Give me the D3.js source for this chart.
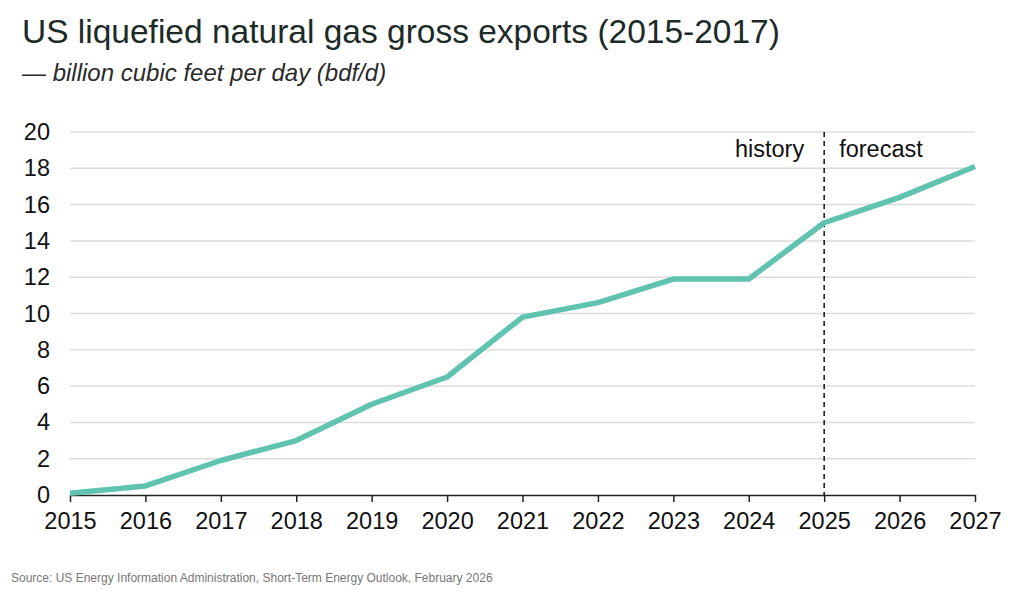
<!DOCTYPE html>
<html>
<head>
<meta charset="utf-8">
<script src="https://cdn.jsdelivr.net/npm/d3@7"></script>
<style>
  body { margin: 0; background: #fff; }
  svg { display: block; font-family: "Liberation Sans", Arial, sans-serif; }
</style>
</head>
<body>
<div id="chart"></div>
<script>
// data
const years = [2015, 2016, 2017, 2018, 2019, 2020, 2021, 2022, 2023, 2024, 2025, 2026, 2027];
const exportsBcfd = [0.1, 0.5, 1.9, 3.0, 5.0, 6.5, 9.8, 10.6, 11.9, 11.9, 15.0, 16.4, 18.1];
const yTicks = [0, 2, 4, 6, 8, 10, 12, 14, 16, 18, 20];
const splitYear = 2025;

const width = 1024, height = 599;
const margin = { top: 132, right: 49, bottom: 104, left: 70 };

const svg = d3.select("#chart").append("svg")
  .attr("width", width)
  .attr("height", height);

const x = d3.scaleLinear()
  .domain([years[0], years[years.length - 1]])
  .range([margin.left, width - margin.right]);

const y = d3.scaleLinear()
  .domain([0, 20])
  .range([height - margin.bottom, margin.top]);

// title + subtitle
svg.append("text")
  .attr("x", 22).attr("y", 43)
  .attr("font-size", 33.5)
  .attr("fill", "#1d2b28")
  .text("US liquefied natural gas gross exports (2015-2017)");

svg.append("text")
  .attr("x", 22).attr("y", 81)
  .attr("font-size", 24)
  .attr("font-style", "italic")
  .attr("fill", "#2a2a2a")
  .text("\u2014 billion cubic feet per day (bdf/d)");

// gridlines
svg.append("g")
  .selectAll("line")
  .data(yTicks.filter(d => d > 0))
  .join("line")
  .attr("x1", x.range()[0]).attr("x2", x.range()[1])
  .attr("y1", d => y(d)).attr("y2", d => y(d))
  .attr("stroke", "#dcdcdc")
  .attr("stroke-width", 1.5);

// y axis labels
const yAxis = svg.append("g")
  .attr("transform", `translate(${margin.left},0)`)
  .call(d3.axisLeft(y).tickValues(yTicks).tickSize(0).tickPadding(20));
yAxis.select(".domain").remove();
yAxis.selectAll("text")
  .attr("font-size", 23.5)
  .attr("font-family", "Liberation Sans, Arial, sans-serif")
  .attr("fill", "#111");

// x axis
const xAxis = svg.append("g")
  .attr("transform", `translate(0,${y(0)})`)
  .call(d3.axisBottom(x).tickValues(years).tickFormat(d3.format("d")).tickSize(7).tickSizeOuter(0).tickPadding(10));
xAxis.select(".domain").attr("stroke", "#222").attr("stroke-width", 1.5);
xAxis.selectAll(".tick line").attr("stroke", "#222").attr("stroke-width", 1.5);
xAxis.selectAll("text")
  .attr("font-size", 23.5)
  .attr("font-family", "Liberation Sans, Arial, sans-serif")
  .attr("fill", "#111");

// history / forecast divider
svg.append("line")
  .attr("x1", x(splitYear)).attr("x2", x(splitYear))
  .attr("y1", y(20)).attr("y2", y(0))
  .attr("stroke", "#111")
  .attr("stroke-width", 1.5)
  .attr("stroke-dasharray", "5,4");

svg.append("text")
  .attr("x", x(splitYear) - 20).attr("y", 157)
  .attr("text-anchor", "end")
  .attr("font-size", 23.5)
  .attr("fill", "#111")
  .text("history");

svg.append("text")
  .attr("x", x(splitYear) + 15).attr("y", 157)
  .attr("font-size", 23.5)
  .attr("fill", "#111")
  .text("forecast");

// series line
const line = d3.line()
  .x((d, i) => x(years[i]))
  .y(d => y(d));

svg.append("path")
  .datum(exportsBcfd)
  .attr("fill", "none")
  .attr("stroke", "#5fc3b0")
  .attr("stroke-width", 5.5)
  .attr("stroke-linejoin", "round")
  .attr("d", line);

// source
svg.append("text")
  .attr("x", 11).attr("y", 582)
  .attr("font-size", 12)
  .attr("fill", "#777")
  .text("Source: US Energy Information Administration, Short-Term Energy Outlook, February 2026");
</script>
</body>
</html>
